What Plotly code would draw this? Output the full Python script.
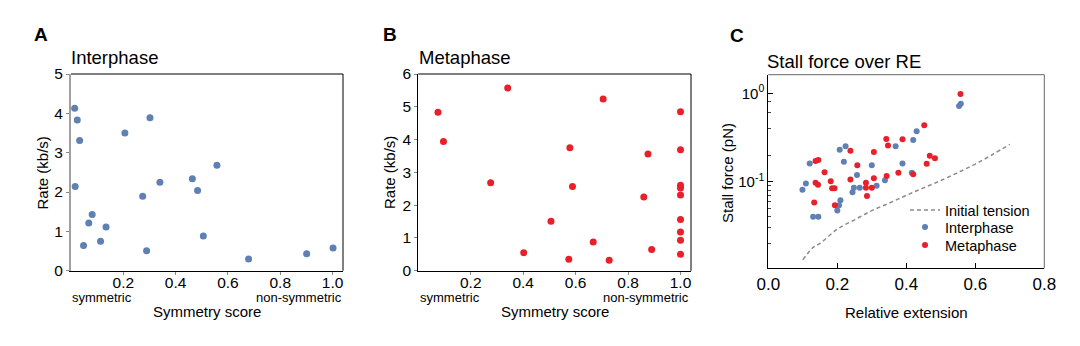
import plotly.graph_objects as go

# ---------------- data ----------------
# Panel A: Interphase, symmetry score vs rate (kb/s)
interphase_sym = [0.014, 0.024, 0.033, 0.016, 0.081, 0.068, 0.048, 0.134, 0.113, 0.206, 0.302,
                  0.274, 0.289, 0.340, 0.464, 0.484, 0.558, 0.506, 0.679, 0.901, 1.002]
interphase_rate = [4.13, 3.83, 3.31, 2.14, 1.43, 1.21, 0.64, 1.11, 0.75, 3.50, 3.89,
                   1.89, 0.51, 2.25, 2.34, 2.04, 2.68, 0.88, 0.30, 0.43, 0.58]

# Panel B: Metaphase, symmetry score vs rate (kb/s)
metaphase_sym = [0.075, 0.096, 0.341, 0.276, 0.402, 0.506, 0.578, 0.588, 0.574, 0.705, 0.667,
                 0.728, 0.876, 0.860, 0.890, 1.0, 1.0, 1.0, 1.0, 1.0, 1.0, 1.0, 1.0, 1.0]
metaphase_rate = [4.83, 3.94, 5.57, 2.68, 0.55, 1.51, 3.75, 2.57, 0.35, 5.24, 0.875,
                  0.32, 3.56, 2.25, 0.65, 4.85, 3.69, 2.61, 2.52, 2.31, 1.56, 1.18, 0.93, 0.50]

# Panel C: stall force vs relative extension
inter_re = [0.099, 0.109, 0.120, 0.130, 0.145, 0.207, 0.224, 0.219, 0.200, 0.205, 0.209, 0.244,
            0.248, 0.257, 0.265, 0.300, 0.314, 0.338, 0.369, 0.389, 0.416, 0.420, 0.430, 0.553, 0.558]
inter_force = [0.081, 0.095, 0.161, 0.040, 0.040, 0.230, 0.252, 0.168, 0.047, 0.054, 0.0615, 0.076,
               0.0855, 0.119, 0.0855, 0.153, 0.090, 0.104, 0.252, 0.161, 0.126, 0.296, 0.372, 0.72, 0.76]

meta_re = [0.133, 0.137, 0.145, 0.137, 0.144, 0.163, 0.181, 0.185, 0.192, 0.193, 0.238, 0.238,
           0.258, 0.283, 0.283, 0.286, 0.300, 0.306, 0.306, 0.342, 0.347, 0.343, 0.377, 0.389,
           0.420, 0.452, 0.459, 0.468, 0.483, 0.557]
meta_force = [0.058, 0.171, 0.176, 0.097, 0.092, 0.128, 0.101, 0.084, 0.084, 0.054, 0.224, 0.106,
              0.153, 0.097, 0.0855, 0.069, 0.0855, 0.109, 0.217, 0.305, 0.256, 0.116, 0.126, 0.302,
              0.121, 0.435, 0.160, 0.197, 0.184, 0.98]

tension_re = [0.10, 0.13, 0.15, 0.20, 0.25, 0.30, 0.35, 0.40, 0.45, 0.50, 0.55, 0.60, 0.65, 0.70]
tension_force = [0.013, 0.018, 0.020, 0.029, 0.037, 0.047, 0.057, 0.070, 0.085, 0.103, 0.127,
                 0.158, 0.203, 0.265]

sym_ticks = [0.2, 0.4, 0.6, 0.8, 1.0]
sym_ticklabels = ["0.2", "0.4", "0.6", "0.8", "1.0"]
re_ticks = [0.0, 0.2, 0.4, 0.6, 0.8]
re_ticklabels = ["0.0", "0.2", "0.4", "0.6", "0.8"]
force_ticks = [0.1, 1]
force_ticklabels = ["10<sup>-1</sup>", "10<sup>0</sup>"]
force_minor = [0.02, 0.03, 0.04, 0.05, 0.06, 0.07, 0.08, 0.09, 0.2, 0.4, 0.6, 0.8]

# ---------------- style ----------------
W, H = 1080, 346
FONT = "Liberation Sans, Arial, Helvetica, sans-serif"
BLUE = "#5E80B3"
RED = "#E8202A"


def px(x):
    return x / W


def py(y):
    return 1 - y / H


fig = go.Figure()

fig.add_trace(go.Scatter(x=interphase_sym, y=interphase_rate, mode="markers",
                         marker=dict(color=BLUE, size=7), xaxis="x", yaxis="y",
                         showlegend=False))
fig.add_trace(go.Scatter(x=metaphase_sym, y=metaphase_rate, mode="markers",
                         marker=dict(color=RED, size=7), xaxis="x2", yaxis="y2",
                         showlegend=False))
fig.add_trace(go.Scatter(x=tension_re, y=tension_force, mode="lines", name="Initial tension",
                         line=dict(color="#8C8C8C", width=1.5, dash="4px,3px", shape="spline"),
                         xaxis="x3", yaxis="y3", legend="legend"))
fig.add_trace(go.Scatter(x=inter_re, y=inter_force, mode="markers", name="Interphase",
                         marker=dict(color=BLUE, size=6), xaxis="x3", yaxis="y3",
                         legend="legend2"))
fig.add_trace(go.Scatter(x=meta_re, y=meta_force, mode="markers", name="Metaphase",
                         marker=dict(color=RED, size=6), xaxis="x3", yaxis="y3",
                         legend="legend3"))

tickfont = dict(family=FONT, size=15.5, color="black")
common_x = dict(showgrid=False, zeroline=False, showline=True, linecolor="black", linewidth=1,
                ticks="outside", ticklen=3, tickcolor="#888", tickfont=tickfont, automargin=False,
                ticklabelstandoff=-5,
                tickvals=sym_ticks, ticktext=sym_ticklabels, range=[0, 1.04])
common_y = dict(showgrid=False, zeroline=False, showline=True, automargin=False,
                ticks="outside", ticklen=3, tickcolor="#888", tickfont=tickfont)

legend_style = dict(xanchor="left", yanchor="middle",
                    font=dict(family=FONT, size=14.5, color="black"),
                    bgcolor="rgba(0,0,0,0)", borderwidth=0, itemwidth=30)

fig.update_layout(
    width=W, height=H, autosize=False,
    margin=dict(l=0, r=0, t=0, b=0, autoexpand=False),
    paper_bgcolor="white", plot_bgcolor="white",
    font=dict(family=FONT, color="black"),
    xaxis=dict(domain=[px(71), px(343)], anchor="y", **common_x),
    yaxis=dict(domain=[py(270.7), py(74)], anchor="x", range=[0, 5], dtick=1,
               linecolor="#A0A0A0", linewidth=2, **common_y),
    xaxis2=dict(domain=[px(418.3), px(691)], anchor="y2", **common_x),
    yaxis2=dict(domain=[py(270.7), py(74)], anchor="x2", range=[0, 6], dtick=1,
                linecolor="black", linewidth=1, **common_y),
    xaxis3=dict(domain=[px(768.3), px(1044.3)], anchor="y3", range=[0, 0.8], automargin=False,
                tickvals=re_ticks, ticktext=re_ticklabels, showgrid=False, zeroline=False,
                showline=True, linecolor="black", linewidth=1, ticks="inside", ticklen=5,
                tickcolor="black", tickfont=dict(family=FONT, size=17, color="black")),
    yaxis3=dict(domain=[py(268.3), py(74.7)], anchor="x3", type="log", range=[-1.981, 0.211],
                automargin=False,
                tickvals=force_ticks, ticktext=force_ticklabels, showgrid=False, zeroline=False,
                showline=True, linecolor="black", linewidth=1, ticks="inside", ticklen=5,
                tickcolor="black", tickfont=dict(family=FONT, size=15, color="black"),
                minor=dict(tickvals=force_minor, ticks="inside", ticklen=3, tickcolor="#444",
                           showgrid=False)),
    legend=dict(x=px(905), y=py(210), **legend_style),
    legend2=dict(x=px(905), y=py(227), **legend_style),
    legend3=dict(x=px(905), y=py(245), **legend_style),
)

shapes = []
# frame lines (top/right) for each panel
for xr, yr, col in [("x domain", "y domain", "black"), ("x2 domain", "y2 domain", "black"),
                    ("x3 domain", "y3 domain", "#666")]:
    shapes.append(dict(type="line", xref=xr, yref=yr, x0=0, x1=1, y0=1, y1=1,
                       line=dict(color=col, width=1)))
    shapes.append(dict(type="line", xref=xr, yref=yr, x0=1, x1=1, y0=0, y1=1,
                       line=dict(color=col, width=1)))
fig.update_layout(shapes=shapes)

ann = []


def add_text(text, x, y, size, xanchor="center", yanchor="middle", bold=False, angle=0):
    ann.append(dict(text=f"<b>{text}</b>" if bold else text, x=px(x), y=py(y),
                    xref="paper", yref="paper", showarrow=False, xanchor=xanchor,
                    yanchor=yanchor, textangle=angle,
                    font=dict(family=FONT, size=size, color="black")))


# panel letters
add_text("A", 41, 34, 19, bold=True)
add_text("B", 390, 34, 19, bold=True)
add_text("C", 737, 35, 19, bold=True)
# titles
add_text("Interphase", 69, 58, 18.5, xanchor="left")
add_text("Metaphase", 416.5, 58, 18.5, xanchor="left")
add_text("Stall force over RE", 764.5, 62, 18.5, xanchor="left")
# x-axis titles and annotations
add_text("symmetric", 70, 297, 13, xanchor="left")
add_text("non-symmetric", 343.5, 297, 13, xanchor="right")
add_text("Symmetry score", 207, 311, 15)
add_text("symmetric", 417.5, 297, 13, xanchor="left")
add_text("non-symmetric", 691.5, 297, 13, xanchor="right")
add_text("Symmetry score", 554.5, 311, 15)
add_text("Relative extension", 906.5, 312, 15)
# y-axis titles
add_text("Rate (kb/s)", 41.5, 173, 15, angle=-90)
add_text("Rate (kb/s)", 389, 173, 15, angle=-90)
add_text("Stall force (pN)", 727, 173, 15, angle=-90)

fig.update_layout(annotations=ann)

fig.write_html("out.html")
